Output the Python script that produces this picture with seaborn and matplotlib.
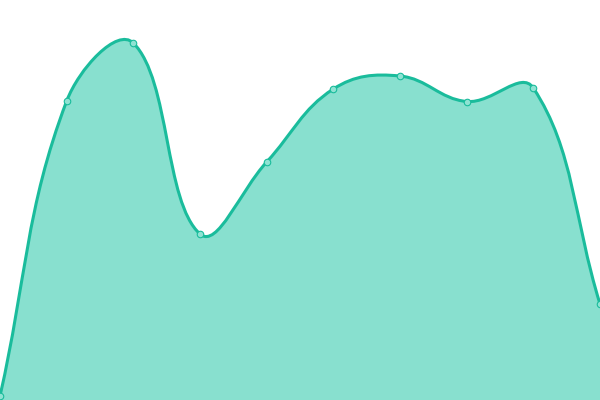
import matplotlib

matplotlib.use("Agg")
import matplotlib.pyplot as plt
import numpy as np
import pandas as pd
import seaborn as sns
from matplotlib.path import Path
from matplotlib.patches import PathPatch

# values (canvas height 400 = top of scale)
categories = list(range(10))
values = [4, 299, 357, 166, 238, 311, 324, 298.5, 312, 96]

LINE = "#1abc9c"
FILL = "#88e0cf"
TENSION = 0.4

sns.set_theme(style="white")

fig = plt.figure(figsize=(6, 4), dpi=100)
ax = fig.add_axes([0, 0, 1, 1])
ax.set_xlim(0, len(categories) - 1)
ax.set_ylim(0, 400)
ax.set_axis_off()

# spline control points in pixel space (chart.js style tension curve)
sx = 600 / (len(categories) - 1)
pts = np.column_stack([np.array(categories, float) * sx, np.array(values, float)])
n = len(pts)
cp_prev = pts.copy()
cp_next = pts.copy()
for i in range(n):
    prev = pts[max(i - 1, 0)]
    cur = pts[i]
    nxt = pts[min(i + 1, n - 1)]
    d01 = np.hypot(*(cur - prev))
    d12 = np.hypot(*(nxt - cur))
    tot = d01 + d12
    s01 = d01 / tot if tot else 0
    s12 = d12 / tot if tot else 0
    cp_prev[i] = cur - TENSION * s01 * (nxt - prev)
    cp_next[i] = cur + TENSION * s12 * (nxt - prev)
cp_prev[:, 0] = np.clip(cp_prev[:, 0], 0, 600)
cp_next[:, 0] = np.clip(cp_next[:, 0], 0, 600)
cp_prev[:, 1] = np.clip(cp_prev[:, 1], 0, 400)
cp_next[:, 1] = np.clip(cp_next[:, 1], 0, 400)

verts = [tuple(pts[0])]
codes = [Path.MOVETO]
for i in range(n - 1):
    verts += [tuple(cp_next[i]), tuple(cp_prev[i + 1]), tuple(pts[i + 1])]
    codes += [Path.CURVE4] * 3
verts = [(x / sx, y) for x, y in verts]

line_path = Path(verts, codes)
fill_path = Path(
    verts + [(categories[-1], 0), (categories[0], 0), verts[0]],
    codes + [Path.LINETO, Path.LINETO, Path.CLOSEPOLY],
)
ax.add_patch(PathPatch(fill_path, facecolor=FILL, edgecolor="none", zorder=1))
ax.add_patch(PathPatch(line_path, facecolor="none", edgecolor=LINE, lw=2.2,
                       capstyle="round", joinstyle="round", zorder=2))

df = pd.DataFrame({"x": categories, "y": values})
sns.scatterplot(data=df, x="x", y="y", ax=ax, s=22, color="#8fe3d3",
                edgecolor=LINE, linewidth=0.8, zorder=3, clip_on=False)
ax.set_xlim(0, len(categories) - 1)
ax.set_ylim(0, 400)
ax.set_axis_off()

fig.savefig("out.png", dpi=100)
